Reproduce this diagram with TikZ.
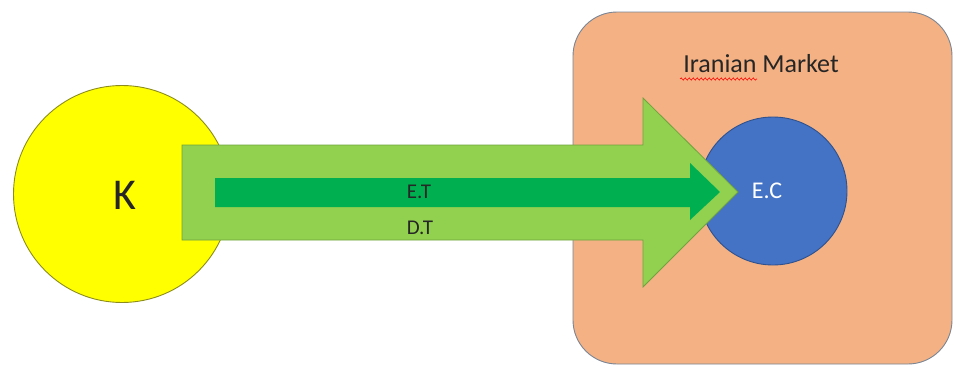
\documentclass[tikz,border=0pt]{standalone}
\usepackage{fontspec}
\setmainfont{Carlito}
\usetikzlibrary{decorations.pathmorphing}
\definecolor{mkt}{HTML}{F4B183}
\definecolor{mktline}{HTML}{7A8595}
\definecolor{lgreen}{HTML}{92D050}
\definecolor{lgline}{HTML}{6FA33E}
\definecolor{dgreen}{HTML}{00B050}
\definecolor{blueC}{HTML}{4472C4}
\definecolor{blueline}{HTML}{2F528F}
\definecolor{yel}{HTML}{FFFF00}
\definecolor{yelline}{HTML}{8C8C1E}
\definecolor{txt}{HTML}{262626}
\tikzset{
  market/.style={draw=mktline, line width=0.9pt, fill=mkt, rounded corners=44pt},
  ball/.style={circle, inner sep=0pt, line width=0.9pt},
  bigarrow/.style={draw=lgline, line width=0.8pt, fill=lgreen},
  smallarrow/.style={fill=dgreen},
  lbl/.style={text=txt, inner sep=0pt},
}
\begin{document}
\begin{tikzpicture}[x=1pt,y=-1pt]
\useasboundingbox (0,0) rectangle (954,367);
% market box
\draw[market] (573,12) rectangle (952,364);
\node[lbl, font=\fontsize{26}{30}\selectfont] (mkt) at (761,64) {Iranian Market};
\draw[red, line width=0.6pt, decorate, decoration={snake, amplitude=1.1pt, segment length=4pt}]
  (680,79) -- (757,79);
% E.C circle
\node[ball, draw=blueline, fill=blueC, minimum size=148pt] (EC) at (773,191) {};
% K circle
\node[ball, draw=yelline, fill=yel, minimum size=217pt] (K) at (122,194) {};
% big light-green arrow
\draw[bigarrow] (182,145) -- (643,145) -- (643,98) -- (738,192) -- (643,287) -- (643,240) -- (182,240) -- cycle;
% dark-green arrow
\fill[smallarrow] (215,178) -- (690,178) -- (690,163) -- (720,192) -- (690,220) -- (690,207) -- (215,207) -- cycle;
% labels
\node[lbl, font=\fontsize{44}{50}\selectfont] (Klbl) at (125,195) {K};
\node[lbl, text=white, font=\fontsize{24}{28}\selectfont] (EClbl) at (767,191) {E.C};
\node[lbl, font=\fontsize{21}{25}\selectfont] (ET) at (419,192) {E.T};
\node[lbl, font=\fontsize{21}{25}\selectfont] (DT) at (420,228) {D.T};
\end{tikzpicture}
\end{document}
